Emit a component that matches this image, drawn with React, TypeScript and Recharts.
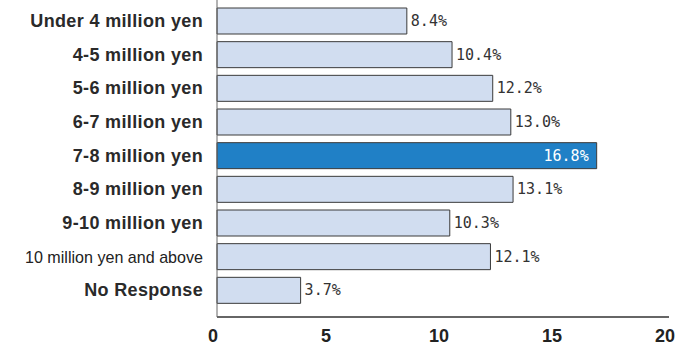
import { BarChart, Bar, XAxis, YAxis, LabelList, Cell } from "recharts";

const categories = [
  "Under 4 million yen",
  "4-5 million yen",
  "5-6 million yen",
  "6-7 million yen",
  "7-8 million yen",
  "8-9 million yen",
  "9-10 million yen",
  "10 million yen and above",
  "No Response",
];

const shares = [8.4, 10.4, 12.2, 13.0, 16.8, 13.1, 10.3, 12.1, 3.7];

const xTicks = [0, 5, 10, 15, 20];

const highlighted = "7-8 million yen";

const data = categories.map((name, i) => ({ name, value: shares[i] }));

const YTick = (props: any) => {
  const { x, y, payload } = props;
  const isLong = payload.value === "10 million yen and above";
  if (isLong) {
    return (
      <text
        x={x}
        y={y}
        dy={6}
        textAnchor="end"
        fontSize={17}
        fontFamily="Liberation Sans, Arial, sans-serif"
        fill="#222"
        textLength={178}
        lengthAdjust="spacingAndGlyphs"
      >
        {payload.value}
      </text>
    );
  }
  return (
    <text
      x={x}
      y={y}
      dy={6}
      textAnchor="end"
      fontSize={18}
      fontWeight="bold"
      letterSpacing={0.35}
      fontFamily="Liberation Sans, Arial, sans-serif"
      fill="#2a2a2a"
    >
      {payload.value}
    </text>
  );
};

const ValueLabel = (props: any) => {
  const { x, y, width, height, value, index } = props;
  const isHi = categories[index] === highlighted;
  const text = `${Number(value).toFixed(1)}%`;
  return (
    <text
      x={isHi ? x + width - 8 : x + width + 4}
      y={y + height / 2}
      dy={5}
      textAnchor={isHi ? "end" : "start"}
      fontSize={15}
      fontFamily="DejaVu Sans Mono, monospace"
      fill={isHi ? "#ffffff" : "#333"}
    >
      {text}
    </text>
  );
};

export default function App() {
  return (
    <div style={{ position: "absolute", left: 0, top: 0, background: "#fff" }}>
      <BarChart
        width={699}
        height={348}
        data={data}
        layout="vertical"
        margin={{ top: 0, right: 30, left: 0, bottom: 0 }}
        barCategoryGap={4}
      >
        <XAxis
          type="number"
          domain={[0, 20]}
          ticks={xTicks}
          height={31}
          axisLine={{ stroke: "#333", strokeWidth: 1.5 }}
          tickLine={false}
          tickSize={0}
          tickMargin={12}
          tick={{
            fill: "#222",
            fontSize: 18,
            fontWeight: "bold",
            fontFamily: "Liberation Sans, Arial, sans-serif",
            dx: -4,
          }}
        />
        <YAxis
          type="category"
          dataKey="name"
          width={217}
          padding={{ top: 4, bottom: 10 }}
          axisLine={{ stroke: "#666", strokeWidth: 1 }}
          tickLine={false}
          tickSize={0}
          tickMargin={14}
          tick={<YTick />}
          interval={0}
        />
        <Bar dataKey="value" isAnimationActive={false} stroke="#3a3a3a" strokeWidth={1}>
          {data.map((d) => (
            <Cell key={d.name} fill={d.name === highlighted ? "#2080c6" : "#d1ddf0"} />
          ))}
          <LabelList dataKey="value" content={<ValueLabel />} />
        </Bar>
      </BarChart>
    </div>
  );
}
